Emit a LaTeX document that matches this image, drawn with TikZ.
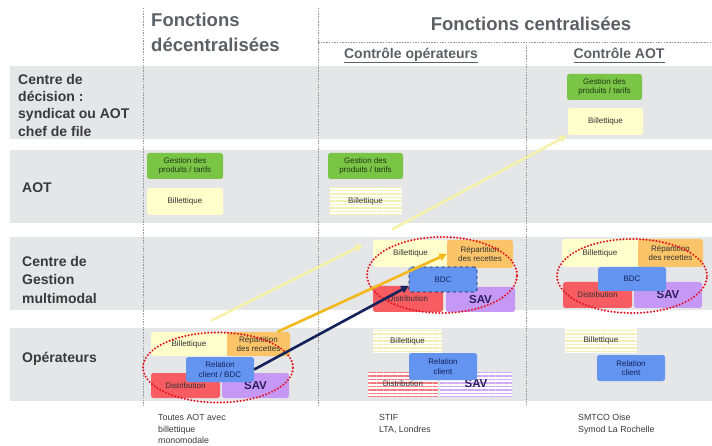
\documentclass[tikz,border=0pt]{standalone}
\usepackage{fontspec}
\setmainfont{Liberation Sans}
\usetikzlibrary{arrows.meta,patterns.meta,calc,shapes.geometric}
\definecolor{bandgray}{RGB}{229,230,232}
\definecolor{hdrcol}{RGB}{92,96,101}
\definecolor{lblcol}{RGB}{58,58,60}
\definecolor{gboxc}{RGB}{122,196,70}
\definecolor{yboxc}{RGB}{255,255,204}
\definecolor{oboxc}{RGB}{251,196,104}
\definecolor{bboxc}{RGB}{98,148,240}
\definecolor{rboxc}{RGB}{246,92,98}
\definecolor{pboxc}{RGB}{198,152,246}
\definecolor{navyc}{RGB}{20,34,92}
\definecolor{goldc}{RGB}{242,184,28}
\definecolor{paleyc}{RGB}{246,242,170}
\definecolor{ellc}{RGB}{228,20,30}
\definecolor{boxtxt}{RGB}{50,50,50}
\definecolor{savtxt}{RGB}{42,30,92}
\definecolor{stripey}{RGB}{244,240,176}
\definecolor{striper}{RGB}{244,120,126}
\definecolor{stripep}{RGB}{208,170,248}
\newcommand\ulx[1]{\setbox0\hbox{#1}\rlap{\rule[-3.8pt]{\wd0}{1pt}}\box0}
\begin{document}
\begin{tikzpicture}[x=1pt,y=-1pt,
  band/.style={fill=bandgray},
  vline/.style={draw=gray!80, line width=0.6pt, dash pattern=on 1.5pt off 1.2pt},
  hdr/.style={inner sep=0pt, text=hdrcol, font=\bfseries\fontsize{18.5}{22}\selectfont},
  subhdr/.style={inner sep=0pt, text=hdrcol, font=\bfseries\fontsize{14}{17}\selectfont},
  rowlbl/.style={inner sep=0pt, align=left, text=lblcol, font=\bfseries\fontsize{14}{17.3}\selectfont},
  foot/.style={inner sep=0pt, align=left, text=lblcol, font=\fontsize{8.8}{11.8}\selectfont},
  box/.style={rectangle, rounded corners=2.5pt, inner sep=0pt, align=center, text=boxtxt, font=\fontsize{8}{9.6}\selectfont},
  gbox/.style={box, fill=gboxc, text={rgb,255:red,30;green,55;blue,20}},
  ybox/.style={box, fill=yboxc},
  obox/.style={box, fill=oboxc},
  bbox/.style={box, fill=bboxc, text=navyc},
  rbox/.style={box, fill=rboxc},
  pbox/.style={box, fill=pboxc, text=savtxt, font=\bfseries\fontsize{11.5}{12}\selectfont},
  striped/.style={box, rounded corners=0pt, preaction={fill=white},
     pattern={Lines[angle=0,distance=3.5pt,line width=1.5pt]}},
  ell/.style={ellipse, inner sep=0pt, draw=ellc, line width=2.3pt, line cap=round, dash pattern=on 0pt off 3.3pt},
  arr/.style={line width=2.6pt, -{Triangle[length=7.5pt,width=7.5pt]}}
]
\useasboundingbox (0,0) rectangle (712,446);
\fill[white] (0,0) rectangle (712,446);
% bands
\fill[band] (10,66) rectangle (712,139);
\fill[band] (10,150) rectangle (712,223);
\fill[band] (10,237) rectangle (712,310);
\fill[band] (10,328) rectangle (712,401);
% dividers
\draw[vline] (143,8) -- (143,405);
\draw[vline] (318,8) -- (318,405);
\draw[vline] (526,42) -- (526,405);
\draw[vline] (318,42) -- (712,42);
% headers
\node[hdr, anchor=base west] (h1) at (151,27) {Fonctions};
\node[hdr, anchor=base west] (h2) at (151,52) {décentralisées};
\node[hdr, anchor=base] (h3) at (531,31) {Fonctions centralisées};
\node[subhdr, anchor=base] (h4) at (411,59) {\ulx{Contrôle opérateurs}};
\node[subhdr, anchor=base] (h5) at (619,59) {\ulx{Contrôle AOT}};
% row labels
\node[rowlbl, anchor=north west] (l1) at (18,74) {Centre de\\décision :\\syndicat ou AOT\\chef de file};
\node[rowlbl, anchor=north west] (l2) at (22,183) {AOT};
\node[rowlbl, anchor=north west, font=\bfseries\fontsize{14}{18.5}\selectfont] (l3) at (22,256) {Centre de\\Gestion\\multimodal};
\node[rowlbl, anchor=base west] (l4) at (22,362) {Opérateurs};
% row 1 (decision centre), controle AOT
\node[gbox, minimum width=75, minimum height=26] (g1) at (604.5,87) {Gestion des\\produits / tarifs};
\node[ybox, minimum width=75, minimum height=27] (b1) at (605.5,121.5) {Billettique};
% row 2 (AOT)
\node[gbox, minimum width=76, minimum height=26] (g2) at (185,166) {Gestion des\\produits / tarifs};
\node[ybox, minimum width=76, minimum height=27] (b2) at (185,201.5) {Billettique};
\node[gbox, minimum width=75, minimum height=26] (g3) at (365.5,166) {Gestion des\\produits / tarifs};
\node[striped, pattern color=stripey, minimum width=72, minimum height=27] (b3) at (365.5,201.5) {Billettique};
% row 3, controle operateurs
\node[ybox, minimum width=75, minimum height=27] (b4) at (410.5,253.5) {Billettique};
\node[obox, minimum width=66, minimum height=28] (r4) at (480,254) {Répartition\\des recettes};
\node[rbox, minimum width=70, minimum height=26] (d4) at (408,299) {Distribution};
\node[pbox, minimum width=69, minimum height=25] (s4) at (480.5,299.5) {SAV};
\node[bbox, draw=navyc, dashed, line width=0.7pt, minimum width=68, minimum height=25] (bdc4) at (443,279.5) {BDC};
\node[ell, minimum width=150, minimum height=76] (e4) at (442,275) {};
% row 3, controle AOT
\node[ybox, minimum width=76, minimum height=28] (b5) at (600,253) {Billettique};
\node[obox, minimum width=65, minimum height=28] (r5) at (670.5,253) {Répartition\\des recettes};
\node[rbox, minimum width=69, minimum height=26] (d5) at (597.5,295) {Distribution};
\node[pbox, minimum width=68, minimum height=26] (s5) at (668,295) {SAV};
\node[bbox, minimum width=68, minimum height=24] (bdc5) at (632,279) {BDC};
\node[ell, minimum width=150, minimum height=74] (e5) at (632,276) {};
% row 4, decentralisees
\node[ybox, minimum width=76, minimum height=24] (b6) at (189,344) {Billettique};
\node[obox, minimum width=63, minimum height=24] (r6) at (258.5,344) {Répartition\\des recettes};
\node[rbox, minimum width=69, minimum height=25] (d6) at (185.5,385.5) {Distribution};
\node[pbox, minimum width=67, minimum height=25] (s6) at (255.5,385.5) {SAV};
\node[bbox, minimum width=68, minimum height=25] (rc6) at (220,369.5) {Relation\\client / BDC};
\node[ell, minimum width=150, minimum height=70] (e6) at (218,367.5) {};
% row 4, controle operateurs
\node[striped, pattern color=stripey, minimum width=69, minimum height=24] (b7) at (407.5,341) {Billettique};
\node[striped, pattern color=striper, minimum width=70, minimum height=24] (d7) at (403,384) {Distribution};
\node[striped, pattern color=stripep, text=savtxt, font=\bfseries\fontsize{11.5}{12}\selectfont, minimum width=72, minimum height=24] (s7) at (476,384) {SAV};
\node[bbox, minimum width=68, minimum height=27] (rc7) at (443,366.5) {Relation\\client};
% row 4, controle AOT
\node[striped, pattern color=stripey, minimum width=72, minimum height=25] (b8) at (601,340.5) {Billettique};
\node[bbox, minimum width=68, minimum height=26] (rc8) at (631,368) {Relation\\client};
% arrows
\draw[arr, paleyc, shorten <=25pt, shorten >=11pt] (b6.north) -- (b4.north west);
\draw[arr, paleyc, shorten <=22pt, shorten >=1pt] (b4.north west) -- (b1.south west);
\draw[arr, goldc] ($(r6.north)!0.6!(r6.north east)$) -- (r4.west);
\draw[arr, navyc] (rc6.east) -- ($(bdc4.west)!0.5!(bdc4.south west)$);
% footnotes
\node[foot, anchor=north west] (f1) at (158,414) {Toutes AOT avec\\billettique\\monomodale};
\node[foot, anchor=north west] (f2) at (379,414) {STIF\\LTA, Londres};
\node[foot, anchor=north west] (f3) at (578,414) {SMTCO Oise\\Symod La Rochelle};
\end{tikzpicture}
\end{document}
